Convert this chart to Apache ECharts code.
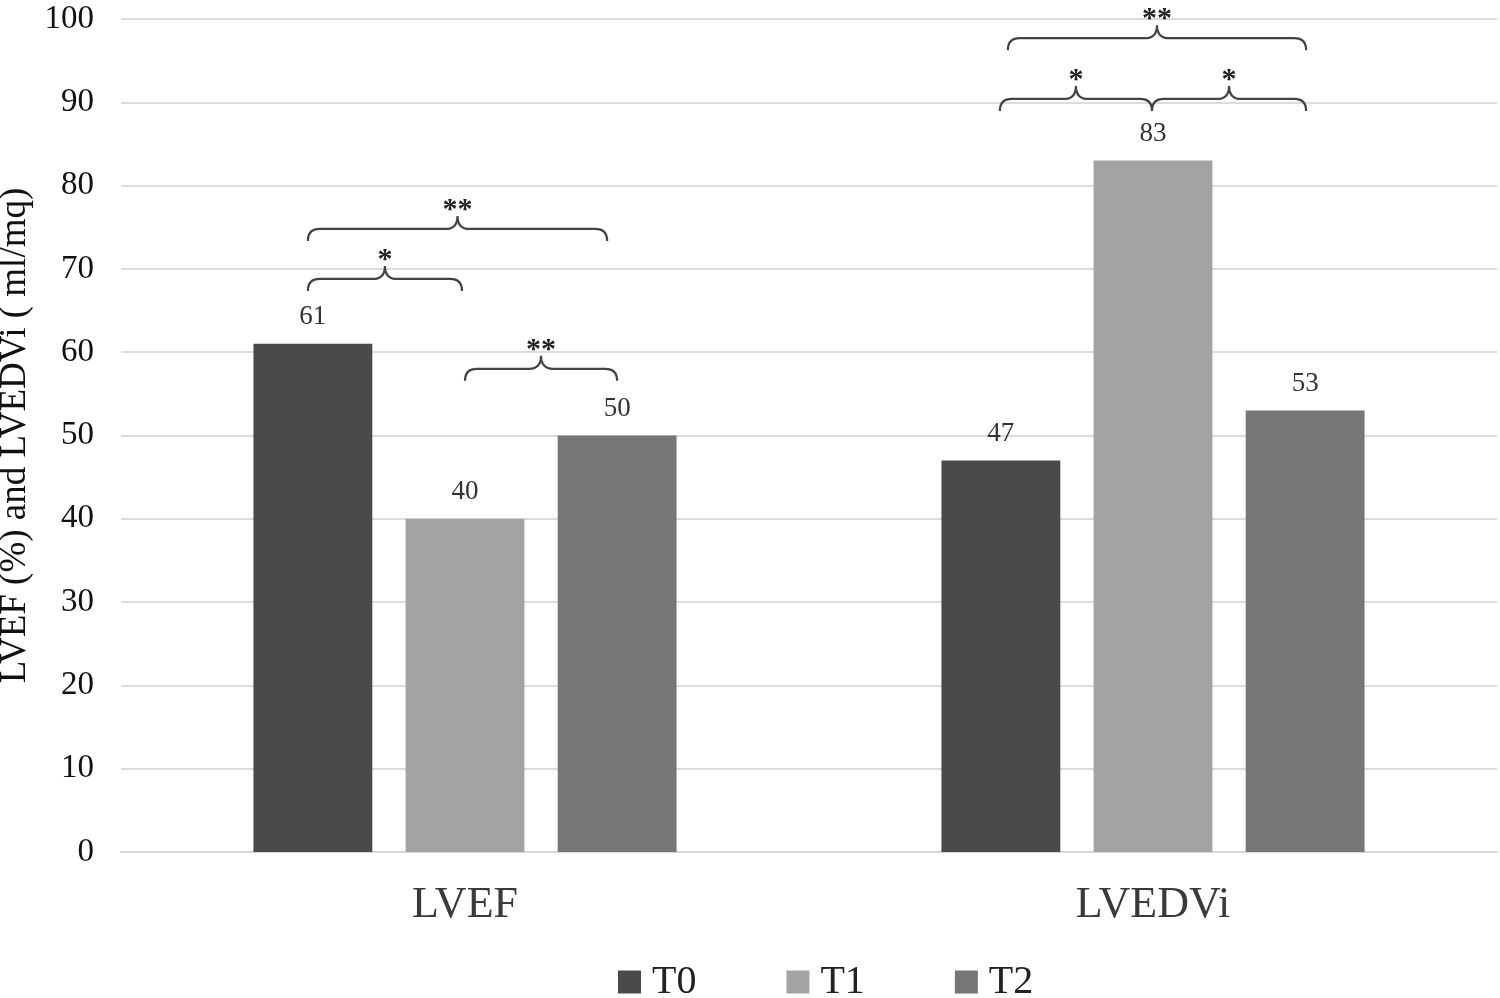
<!DOCTYPE html>
<html>
<head>
<meta charset="utf-8">
<script src="https://cdn.jsdelivr.net/npm/echarts@6/dist/echarts.min.js"></script>
<style>html,body{margin:0;padding:0;background:#fff}#c{width:1500px;height:998px}</style>
</head>
<body>
<div id="c"></div>
<script>
const categories = ['LVEF', 'LVEDVi'];
const seriesNames = ['T0', 'T1', 'T2'];
const T0 = [61, 47];
const T1 = [40, 83];
const T2 = [50, 53];
const yTicks = [0, 10, 20, 30, 40, 50, 60, 70, 80, 90, 100];
// significance braces: [category index, from series index, to series index, y value, label]
const braces = [
  [0, 0, 1, 68.8, '*'],
  [0, 0, 2, 74.8, '**'],
  [0, 1, 2, 58.0, '**'],
  [1, 0, 1, 90.4, '*'],
  [1, 1, 2, 90.4, '*'],
  [1, 0, 2, 97.7, '**']
];
// small pixel nudges of brace ends (styling only)
const braceNudge = [[-5, -3], [-5, -10], [0, 0], [-1, -1], [-1, 1], [7, 1]];

const colors = ['#4a4a4a', '#a3a3a3', '#767676'];
const BAR_GAP = 0.28, CAT_GAP = 0.385, NBAR = 3;
const FONT = 'Liberation Serif';

function barCenter(api, cat, s) {
  const band = api.size([1, 0])[0];
  const c = api.coord([cat, 0])[0];
  const groupW = band * (1 - CAT_GAP);
  const w = groupW / (NBAR + (NBAR - 1) * BAR_GAP);
  const start = c - groupW / 2;
  return start + s * w * (1 + BAR_GAP) + w / 2;
}

const chart = echarts.init(document.getElementById('c'));
chart.setOption({
  animation: false,
  backgroundColor: '#fff',
  grid: { left: 121, right: 3, top: 19, bottom: 146, outerBoundsMode: 'none', containLabel: false },
  legend: {
    top: 957, left: 613,
    data: seriesNames,
    icon: 'rect', itemWidth: 23, itemHeight: 23, itemGap: 90,
    textStyle: { fontFamily: FONT, fontSize: 40, color: '#222', padding: [0, 0, 0, 6] }
  },
  xAxis: {
    type: 'category', data: categories,
    axisLine: { lineStyle: { color: '#d9d9d9', width: 2 } },
    axisTick: { show: false },
    axisLabel: { fontFamily: FONT, fontSize: 44, color: '#3a3a3a', margin: 31 }
  },
  yAxis: {
    type: 'value', min: 0, max: 100, interval: 10,
    name: 'LVEF (%) and LVEDVi ( ml/mq)',
    nameLocation: 'middle', nameGap: 82,
    nameTextStyle: { fontFamily: FONT, fontSize: 37, color: '#111' },
    axisLabel: { fontFamily: FONT, fontSize: 33, color: '#111', margin: 27,
      formatter: v => yTicks.includes(v) ? String(v) : '' },
    splitLine: { lineStyle: { color: '#dcdcdc', width: 2 } },
    axisLine: { show: false }, axisTick: { show: false }
  },
  series: [
    ...[T0, T1, T2].map((d, i) => ({
      name: seriesNames[i], type: 'bar', data: d,
      barGap: (BAR_GAP * 100) + '%', barCategoryGap: (CAT_GAP * 100) + '%',
      itemStyle: { color: colors[i] },
      label: { show: true, position: 'top', distance: 13, fontFamily: FONT, fontSize: 27, color: '#333' }
    })),
    {
      type: 'custom', name: 'braces', data: braces, silent: true,
      encode: { x: 0, y: 3 },
      renderItem: function (params, api) {
        const cat = api.value(0), s1 = api.value(1), s2 = api.value(2), yv = api.value(3);
        const lab = braces[params.dataIndex][4];
        const nd = braceNudge[params.dataIndex];
        const xa = barCenter(api, cat, s1) + nd[0];
        const xb = barCenter(api, cat, s2) + nd[1];
        const yh = api.coord([cat, yv])[1];
        const xm = (xa + xb) / 2;
        const r = 12, h = 13;
        const d = `M${xa},${yh + r} Q${xa},${yh} ${xa + r},${yh} L${xm - r},${yh} Q${xm},${yh} ${xm},${yh - h} Q${xm},${yh} ${xm + r},${yh} L${xb - r},${yh} Q${xb},${yh} ${xb},${yh + r}`;
        return {
          type: 'group',
          children: [
            { type: 'path', shape: { pathData: d }, style: { fill: null, stroke: '#444', lineWidth: 2.2 } },
            { type: 'text', x: xm, y: yh - h + 9,
              style: { text: lab, fontFamily: FONT, fontSize: 30, fontWeight: 'bold', fill: '#222', align: 'center', verticalAlign: 'bottom' } }
          ]
        };
      }
    }
  ]
});
</script>
</body>
</html>
